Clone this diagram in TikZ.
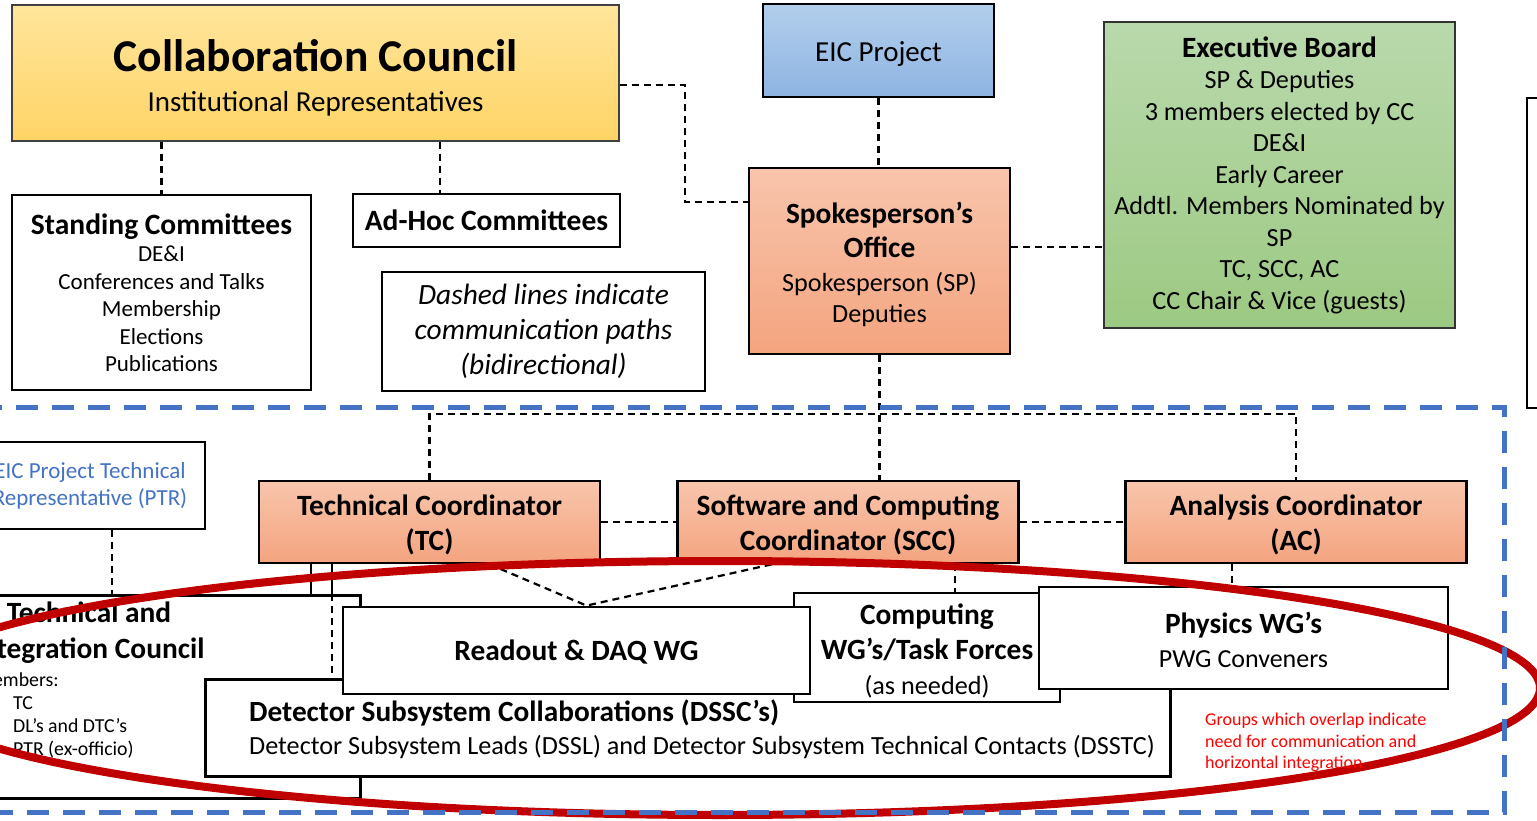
\documentclass[tikz,border=0pt]{standalone}
\usepackage{fontspec}
\setmainfont{Carlito}
\usetikzlibrary{calc}

\newcommand{\fsz}[2]{\fontsize{#1}{#2}\selectfont}
\newcommand{\lowerby}[2]{\raisebox{-#1}[\height][\depth]{#2}}

\definecolor{ccTop}{RGB}{255,229,155}
\definecolor{ccBot}{RGB}{255,212,102}
\definecolor{eicTop}{RGB}{178,206,236}
\definecolor{eicBot}{RGB}{142,180,226}
\definecolor{ebTop}{RGB}{185,217,172}
\definecolor{ebBot}{RGB}{156,201,130}
\definecolor{orTop}{RGB}{248,197,172}
\definecolor{orBot}{RGB}{244,164,127}
\definecolor{frameBlue}{RGB}{68,114,196}
\definecolor{ovalRed}{RGB}{192,0,0}

\tikzset{
  box/.style={draw, rectangle, inner sep=0pt, align=center},
  wbox/.style={box, fill=white, line width=2.8pt},
  obox/.style={box, top color=orTop, bottom color=orBot, line width=2.6pt},
  comm/.style={dash pattern=on 7pt off 5pt, line width=2.2pt},
  link/.style={line width=2.2pt},
  framedash/.style={frameBlue, line width=5pt, dash pattern=on 22pt off 14pt}
}

\begin{document}
\begin{tikzpicture}[x=1pt, y=-1pt, font=\fsz{26}{31}]
    \useasboundingbox (0,0) rectangle (1537,821);
    \clip (0,0) rectangle (1537,821);

    % upper part
    \node[box, line width=1.2pt, draw=black!75, top color=ccTop, bottom color=ccBot,
          minimum width=607, minimum height=136] (cc) at (315.5,73)
        {\lowerby{4.5pt}{\fsz{45.5}{50}\bfseries Collaboration Council}\\[9pt]\lowerby{4.5pt}{\fsz{29}{34}Institutional Representatives}};
    \node[box, line width=2pt, top color=eicTop, bottom color=eicBot,
          minimum width=231, minimum height=93, font=\fsz{29}{32}] (eic) at (878.5,50.5) {\lowerby{4pt}{EIC Project}};
    \node[box, line width=1.5pt, draw=black!80, top color=ebTop, bottom color=ebBot,
          minimum width=351, minimum height=306, font=\fsz{26.2}{31.5}] (eb) at (1279.5,175)
        {{\fsz{29.4}{33}\bfseries Executive Board}\\{\fsz{26.2}{33}SP \& Deputies}\\3 members elected by CC\\DE\&I\\Early Career\\
         Addtl. Members Nominated by\\SP\\TC, SCC, AC\\CC Chair \& Vice (guests)};
    \node[box, line width=2pt, top color=orTop, bottom color=orBot,
          minimum width=261, minimum height=186, font=\fsz{26.2}{31}] (so) at (879.5,261)
        {\lowerby{3pt}{\fsz{29.4}{34}\bfseries Spokesperson’s}\\[3pt]\lowerby{3pt}{\fsz{29.4}{34}\bfseries Office}\\[3pt]
         \lowerby{3pt}{Spokesperson (SP)}\\\lowerby{3pt}{Deputies}};
    \node[wbox, minimum width=299, minimum height=195, font=\fsz{23}{27.5}] (stand) at (161.5,292.5)
        {{\fsz{29.5}{32}\bfseries Standing Committees}\\{\fsz{23}{31}DE\&I}\\Conferences and Talks\\Membership\\Elections\\Publications};
    \node[wbox, minimum width=267, minimum height=53, font=\fsz{29.5}{32}\bfseries] (adhoc) at (486.5,220.5) {Ad-Hoc Committees};
    \node[box, line width=1.3pt, minimum width=323, minimum height=119, font=\fsz{29.4}{35}\itshape] (legend) at (543.5,331.5)
        {Dashed lines indicate\\communication paths\\(bidirectional)};
    \node[box, line width=2pt, minimum width=100, minimum height=310, anchor=north west] (side) at (1526,97) {};

    \coordinate (adhocx) at (440,0);
    \draw[comm] (stand.north |- cc.south) -- (stand.north);
    \draw[comm] (cc.south -| adhocx) -- (adhoc.north -| adhocx);
    \draw[comm] ([yshift=-12pt]cc.east) -- ++(65,0) |- ([yshift=59pt]so.west);
    \draw[comm] (eic.south) -- (eic.south |- so.north);
    \coordinate (soeb) at ([yshift=14pt]so.east);
    \draw[comm] (soeb) -- (soeb -| eb.west);

    % coordinators
    \node[box, line width=2pt, minimum width=230, minimum height=87, text=frameBlue, font=\fsz{23}{27}] (ptr) at (90,485.5)
        {EIC Project Technical\\Representative (PTR)};
    \foreach \nm/\cx/\la/\lb in {tc/429.5/Technical Coordinator/(TC),
                                 scc/848/Software and Computing/Coordinator (SCC),
                                 ac/1296/Analysis Coordinator/(AC)} {
        \node[obox, minimum width=341, minimum height=82, font=\fsz{29.4}{35}\bfseries] (\nm) at (\cx,522)
            {\lowerby{3pt}{\la}\\\lowerby{3pt}{\lb}};
    }
    \draw[comm] (so.south) -- (so.south |- scc.north);
    \draw[comm] (tc.north) -- ++(0,-66) -| (ac.north);
    \draw[comm] (tc.east) -- (scc.west);
    \draw[comm] (scc.east) -- (ac.west);

    % working groups
    \node[wbox, minimum width=550, minimum height=203, anchor=north east] (tic) at (362,594) {};
    \node[font=\fsz{29.4}{36}\bfseries, align=center] (ticname) at (89,633) {Technical and\\Integration Council};
    \node[font=\fsz{19.8}{23}, align=left, anchor=north west, inner sep=0pt] (ticmembers) at (-24,673)
        {Members:\\\hspace*{37pt}TC\\\hspace*{37pt}DL’s and DTC’s\\\hspace*{37pt}PTR (ex-officio)};
    \coordinate (ptrx) at (112,0);
    \draw[comm] (ptr.south -| ptrx) -- (tic.north -| ptrx);
    \coordinate (tcA) at ([xshift=-118.5pt]tc.south);
    \coordinate (tcB) at ([xshift=-97.5pt]tc.south);
    \draw[link] (tcA) -- (tcA |- tic.north);
    \draw[link] (tcB) -- (tcB |- tic.north);

    \node[wbox, minimum width=965, minimum height=97, anchor=north west] (dssc) at (204,678) {};
    \draw[comm] (tcB |- tic.north) -- (tcB |- dssc.north);
    \node[anchor=west, align=left, font=\fsz{26.2}{33}, inner sep=0pt] (dssctext) at (249,729)
        {{\fsz{29.3}{33}\bfseries Detector Subsystem Collaborations (DSSC’s)}\\
         Detector Subsystem Leads (DSSL) and Detector Subsystem Technical Contacts (DSSTC)};
    \node[wbox, minimum width=266, minimum height=109, font=\fsz{29.4}{35}\bfseries] (comp) at (927,647.5)
        {\lowerby{3pt}{Computing}\\\lowerby{3pt}{WG’s/Task Forces}\\\lowerby{3pt}{\fsz{26.2}{34}\mdseries (as needed)}};
    \node[wbox, minimum width=467, minimum height=87, font=\fsz{29.4}{32}\bfseries] (rdaq) at (576.5,650.5) {\lowerby{2pt}{Readout \& DAQ WG}};
    \node[wbox, minimum width=409, minimum height=102, font=\fsz{26}{34}] (pwg) at (1243.5,638)
        {\lowerby{2pt}{\fsz{29.4}{34}\bfseries Physics WG’s}\\\lowerby{2pt}{PWG Conveners}};

    \coordinate (tcR) at ([xshift=60pt]tc.south);
    \coordinate (sccL) at ([xshift=-76pt]scc.south);
    \coordinate (rdJ) at ([xshift=10pt]rdaq.north);
    \draw[comm] (tcR) -- (rdJ) -- (sccL);
    \coordinate (sccR) at ([xshift=107pt]scc.south);
    \draw[comm] (sccR) -- (sccR |- comp.north);
    \coordinate (acL) at ([xshift=-64pt]ac.south);
    \draw[comm] (acL) -- (acL |- pwg.north);

    % overlap
    \draw[ovalRed, line width=8pt] (720,688) ellipse [x radius=820, y radius=127];
    \node[anchor=north west, align=left, text=red, font=\fsz{18}{21.5}, inner sep=0pt] (overlapnote) at (1205,713)
        {Groups which overlap indicate\\need for communication and\\horizontal integration};

    \draw[framedash] (-20,407) -- (1504,407) -- (1504,812) -- (-20,812);
\end{tikzpicture}
\end{document}
